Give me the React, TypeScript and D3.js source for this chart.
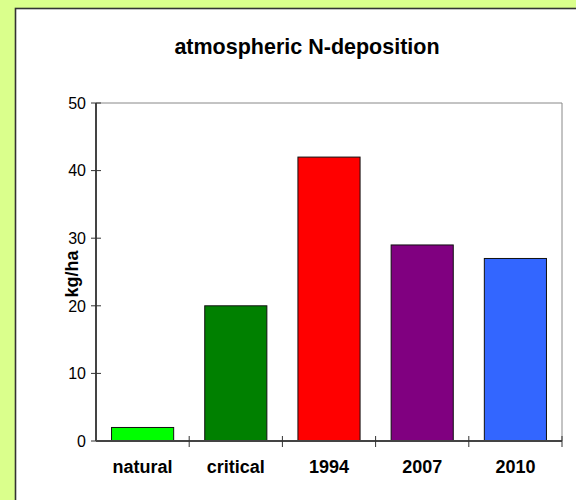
import React from "react";
import * as d3 from "d3";

const categories = ["natural", "critical", "1994", "2007", "2010"];
const values = [2, 20, 42, 29, 27];
const barColors = ["#00FF00", "#008000", "#FF0000", "#800080", "#3366FF"];
const yTicks = [0, 10, 20, 30, 40, 50];
const title = "atmospheric N-deposition";
const yLabel = "kg/ha";

const W = 576;
const H = 500;
const plot = { left: 96, right: 562, top: 103, bottom: 441 };

export default function App() {
  const x = d3
    .scaleBand<string>()
    .domain(categories)
    .range([plot.left, plot.right])
    .paddingInner(1 / 3)
    .paddingOuter(1 / 6);
  const y = d3.scaleLinear().domain([0, 50]).range([plot.bottom, plot.top]);
  const step = x.step();
  const font = "Arial, 'Liberation Sans', sans-serif";

  return (
    <svg
      width={W}
      height={H}
      style={{ position: "absolute", left: 0, top: 0, display: "block" }}
      fontFamily={font}
    >
      <rect x={0} y={0} width={W} height={H} fill="#DAFF8C" />
      <rect x={15.5} y={8.5} width={W + 10} height={H + 10} fill="#FFFFFF" stroke="#333" strokeWidth={1.6} />
      <text x={307} y={54} textAnchor="middle" fontSize={21.5} fontWeight="bold" fill="#000">
        {title}
      </text>
      {/* plot border top/right */}
      <line x1={plot.left} x2={plot.right} y1={plot.top} y2={plot.top} stroke="#888" strokeWidth={1} />
      <line x1={plot.right} x2={plot.right} y1={plot.top} y2={plot.bottom} stroke="#888" strokeWidth={1} />
      {/* bars */}
      {categories.map((c, i) => (
        <rect
          key={c}
          x={x(c)!}
          y={y(values[i])}
          width={x.bandwidth()}
          height={y(0) - y(values[i])}
          fill={barColors[i]}
          stroke="#111"
          strokeWidth={1}
        />
      ))}
      {/* y axis */}
      <line x1={plot.left} x2={plot.left} y1={plot.top} y2={plot.bottom} stroke="#444" strokeWidth={2} />
      {yTicks.map((t) => (
        <g key={t}>
          <line x1={plot.left - 5} x2={plot.left + 5} y1={y(t)} y2={y(t)} stroke="#333" strokeWidth={1} />
          <text x={86} y={y(t)} dy="0.36em" textAnchor="end" fontSize={16} fill="#000">
            {t}
          </text>
        </g>
      ))}
      {/* x axis */}
      <line x1={plot.left} x2={plot.right} y1={plot.bottom} y2={plot.bottom} stroke="#444" strokeWidth={2} />
      {categories.map((c, i) => (
        <line
          key={"t" + c}
          x1={plot.left + step * (i + 1)}
          x2={plot.left + step * (i + 1)}
          y1={plot.bottom - 5}
          y2={plot.bottom + 6}
          stroke="#333"
          strokeWidth={1}
        />
      ))}
      {categories.map((c) => (
        <text
          key={"l" + c}
          x={x(c)! + x.bandwidth() / 2}
          y={473}
          textAnchor="middle"
          fontSize={18}
          fontWeight="bold"
          fill="#000"
        >
          {c}
        </text>
      ))}
      <text
        transform={`translate(78, ${(plot.top + plot.bottom) / 2 + 2}) rotate(-90)`}
        textAnchor="middle"
        fontSize={18}
        fontWeight="bold"
        fill="#000"
      >
        {yLabel}
      </text>
    </svg>
  );
}
